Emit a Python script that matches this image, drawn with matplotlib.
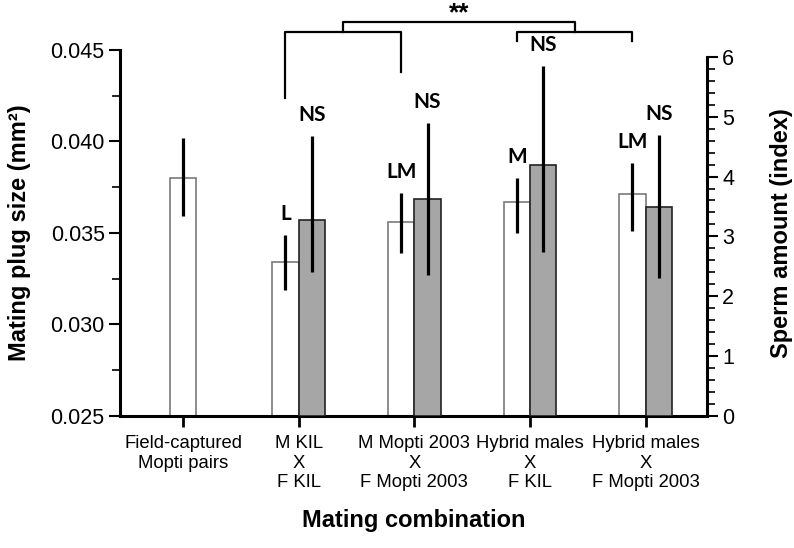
import numpy as np
import matplotlib.pyplot as plt
from matplotlib.ticker import MultipleLocator

plt.rcParams['font.family'] = ['Liberation Sans', 'DejaVu Sans']

# data
groups = ['Field-captured\nMopti pairs', 'M KIL\nX\nF KIL', 'M Mopti 2003\nX\nF Mopti 2003',
          'Hybrid males\nX\nF KIL', 'Hybrid males\nX\nF Mopti 2003']
plug_mean = [0.0380, 0.0334, 0.0356, 0.0367, 0.0371]
plug_low = [0.0359, 0.0319, 0.0339, 0.0350, 0.0351]
plug_high = [0.0402, 0.0349, 0.0372, 0.0380, 0.0388]
plug_letters = ['', 'L', 'LM', 'M', 'LM']

sperm_mean = [3.28, 3.62, 4.20, 3.49]
sperm_low = [2.41, 2.36, 2.73, 2.31]
sperm_high = [4.68, 4.90, 5.85, 4.69]
sperm_letters = ['NS', 'NS', 'NS', 'NS']

x = np.arange(len(groups))
w = 0.229
# white bars sit left of the tick, except the single field bar
xw = np.where(x == 0, x, x - w / 2)
xg = x[1:] + w / 2

fig = plt.figure(figsize=(7.94, 5.48), dpi=100)
ax = fig.add_axes([0.1511, 0.2414, 0.8904 - 0.1511, 0.9088 - 0.2414])
ax2 = ax.twinx()

pm = np.array(plug_mean)
ax.bar(xw, pm, width=w, bottom=0, color='white', edgecolor='#7a7a7a', linewidth=1.2, zorder=2)
ax.errorbar(xw, pm, yerr=[pm - np.array(plug_low), np.array(plug_high) - pm],
            fmt='none', ecolor='black', elinewidth=2.3, capsize=0, zorder=3)

sm = np.array(sperm_mean)
ax2.bar(xg, sm, width=w, color='#a6a6a6', edgecolor='#222222', linewidth=1.2, zorder=2)
ax2.errorbar(xg, sm, yerr=[sm - np.array(sperm_low), np.array(sperm_high) - sm],
             fmt='none', ecolor='black', elinewidth=2.3, capsize=0, zorder=3)

ax.set_xlim(-0.545, 4.53)
ax.set_ylim(0.025, 0.045)
ax2.set_ylim(0, 6.117)

for a in (ax, ax2):
    a.spines['top'].set_visible(False)
    for s in a.spines.values():
        s.set_linewidth(2.2)
ax.spines['right'].set_visible(False)
ax2.spines['left'].set_visible(False)
ax2.spines['bottom'].set_visible(False)
ax2.spines['right'].set_bounds(0, 6)

ax.yaxis.set_minor_locator(MultipleLocator(0.0025))
ax.set_yticks([0.025, 0.030, 0.035, 0.040, 0.045])
ax.set_yticklabels(['0.025', '0.030', '0.035', '0.040', '0.045'])
ax2.yaxis.set_minor_locator(MultipleLocator(0.2))
ax2.set_yticks(range(7))

ax.tick_params(axis='y', which='major', length=8, width=1.5, labelsize=15.5, pad=3)
ax.tick_params(axis='y', which='minor', length=6, width=1.2)
ax2.tick_params(axis='y', which='major', length=8, width=1.5, labelsize=15.5, pad=3)
ax2.tick_params(axis='y', which='minor', length=6, width=1.2)
ax.set_xticks(x)
ax.set_xticklabels(groups)
ax.tick_params(axis='x', length=8, width=2, labelsize=13.3, pad=6)

ax.set_xlabel('Mating combination', fontsize=17, fontweight='bold', labelpad=13)
ax.set_ylabel('Mating plug size (mm²)', fontsize=17, fontweight='bold', labelpad=14)
ax2.set_ylabel('Sperm amount (index)', fontsize=17, fontweight='bold', labelpad=26)

# significance letters
for xi, hi, t in zip(xw, plug_high, plug_letters):
    if t:
        ax.annotate(t, (xi, hi), xytext=(0, 8), textcoords='offset points', ha='center',
                    va='bottom', fontsize=15, fontweight='bold', family='Lato')
for xi, hi, t in zip(xg, sperm_high, sperm_letters):
    ax2.annotate(t, (xi, hi), xytext=(0, 8), textcoords='offset points', ha='center',
                 va='bottom', fontsize=15, fontweight='bold', family='Lato')

# brackets comparing parental vs hybrid males
yb, yt = 0.04598, 0.04655
lk = dict(color='black', lw=1.6, clip_on=False, zorder=4)
ax.plot([xw[1], xw[1], xw[2], xw[2]], [0.0424, yb, yb, 0.0438], **lk)
ax.plot([xw[3], xw[3], xw[4], xw[4]], [0.0455, yb, yb, 0.0455], **lk)
m1 = (xw[1] + xw[2]) / 2
m2 = (xw[3] + xw[4]) / 2
ax.plot([m1, m1, m2, m2], [yb, yt, yt, yb], **lk)
ax.annotate('**', ((m1 + m2) / 2, yt), xytext=(0, 1), textcoords='offset points',
            ha='center', va='baseline', fontsize=19, fontweight='bold',
            annotation_clip=False)

fig.savefig('out.png', dpi=100)
